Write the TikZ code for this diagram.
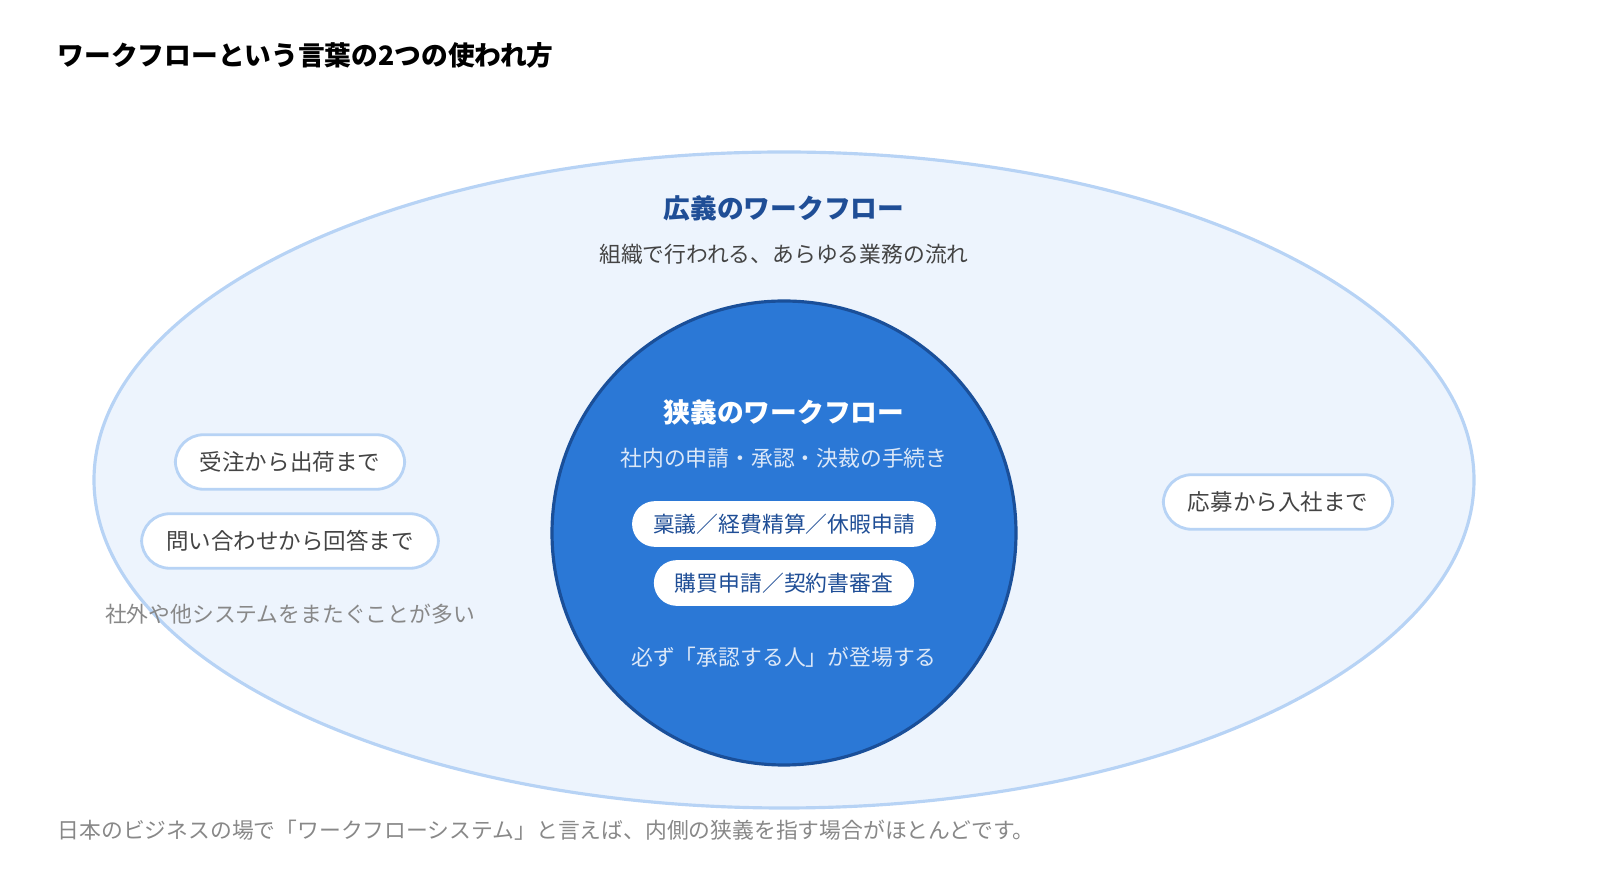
\documentclass[tikz,border=0pt]{standalone}
\usepackage{fontspec}
\setmainfont{Noto Sans CJK JP}
\newfontfamily\jpbold{Noto Sans CJK JP}[BoldFont={* Bold}]
\usetikzlibrary{positioning}
\definecolor{paleblue}{HTML}{EDF4FD}
\definecolor{lineblue}{HTML}{B7D3F5}
\definecolor{midblue}{HTML}{2B78D6}
\definecolor{darkblue}{HTML}{1A4F99}
\definecolor{headblue}{HTML}{1F4E96}
\definecolor{textgray}{HTML}{444444}
\definecolor{notegray}{HTML}{888888}
\definecolor{softwhite}{HTML}{DCE8F8}
\tikzset{
    every node/.style={inner sep=0pt},
    head node/.style={font=\fontsize{7.6}{9}\selectfont\bfseries},
    sub node/.style={font=\fontsize{6.2}{7.5}\selectfont},
    pill node/.style={draw=lineblue,line width=0.8pt,fill=white,rounded corners=8pt,
        text=textgray,minimum height=15.5pt,inner xsep=7pt,font=\fontsize{6.4}{7.5}\selectfont},
    tag node/.style={fill=white,rounded corners=6.5pt,text=headblue,
        minimum height=13pt,inner xsep=6pt,font=\fontsize{6.2}{7.5}\selectfont}
}
\begin{document}
\begin{tikzpicture}[x=0.01cm,y=-0.01cm]
    \useasboundingbox (0,0) rectangle (1600,880);

    \node[head node,anchor=west] (title) at (57,55) {ワークフローという言葉の2つの使われ方};

    \draw[lineblue,fill=paleblue,line width=0.9pt] (784,480) ellipse [x radius=690,y radius=328];
    \node[head node,text=headblue] (wide) at (784,208) {広義のワークフロー};
    \node[sub node,text=textgray] (widesub) at (784,254) {組織で行われる、あらゆる業務の流れ};

    \draw[darkblue,fill=midblue,line width=0.9pt] (784,533) circle [radius=232];
    \node[head node,text=white] (narrow) at (784,412) {狭義のワークフロー};
    \node[sub node,text=softwhite] (narrowsub) at (784,458) {社内の申請・承認・決裁の手続き};
    \node[tag node] (tag1) at (784,524) {稟議／経費精算／休暇申請};
    \node[tag node] (tag2) at (784,583) {購買申請／契約書審査};
    \node[sub node,text=softwhite] (narrownote) at (784,657) {必ず「承認する人」が登場する};

    \node[pill node] (left1) at (290,462) {受注から出荷まで};
    \node[pill node] (left2) at (290,541) {問い合わせから回答まで};
    \node[sub node,text=notegray] (leftnote) at (290,614) {社外や他システムをまたぐことが多い};
    \node[pill node] (right1) at (1278,502) {応募から入社まで};

    \node[sub node,text=notegray,anchor=west] (foot) at (57,830)
        {日本のビジネスの場で「ワークフローシステム」と言えば、内側の狭義を指す場合がほとんどです。};
\end{tikzpicture}
\end{document}
